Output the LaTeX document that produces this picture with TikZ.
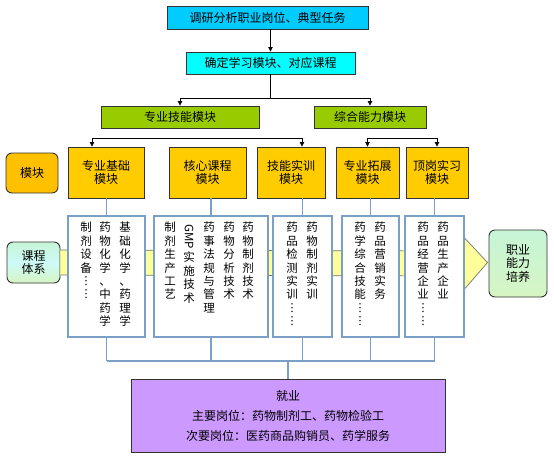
\documentclass[tikz,border=0pt]{standalone}
\usepackage{fontspec}
\setmainfont{Noto Sans CJK SC}
\usetikzlibrary{arrows.meta,calc}
\definecolor{cyanA}{RGB}{0,204,255}
\definecolor{cyanB}{RGB}{0,255,255}
\definecolor{greenM}{RGB}{153,204,0}
\definecolor{yellowM}{RGB}{255,204,0}
\definecolor{orangeM}{RGB}{255,192,0}
\definecolor{purpleM}{RGB}{204,153,255}
\definecolor{blueL}{RGB}{122,160,200}
\definecolor{arrowY}{RGB}{255,255,153}
\definecolor{mintT}{RGB}{198,245,214}
\definecolor{mintM}{RGB}{205,250,248}
\definecolor{mintB}{RGB}{214,245,196}
\begin{document}
\begin{tikzpicture}[x=1pt,y=-1pt,
  box/.style={draw=black!80, line width=0.9pt, inner sep=0pt, align=center, font=\fontsize{12}{13.5}\selectfont},
  rbox/.style={box, rounded corners=6pt, top color=mintT, bottom color=mintB, middle color=mintM},
  course/.style={draw=blueL, line width=1.6pt, fill=white, inner sep=0pt},
  vcol/.style={anchor=north, inner sep=0pt, align=center, font=\fontsize{11.5}{13.4}\selectfont},
  arr/.style={-{Triangle[length=4.5pt,width=4.5pt]}, line width=0.8pt},
  blk/.style={line width=0.8pt},
  bl/.style={draw=blueL, line width=1.6pt},
]
\fill[white] (0,0) rectangle (554,458);
\useasboundingbox (0,0) rectangle (554,458);

% top boxes
\node[box, fill=cyanA, minimum width=201pt, minimum height=23pt] (top) at (267.5,17.5) {调研分析职业岗位、典型任务};
\node[box, fill=cyanB, minimum width=169pt, minimum height=22pt] (sec) at (270.5,63) {确定学习模块、对应课程};
\draw[arr] (top.south -| sec.north) -- (sec.north);

% green boxes
\node[box, fill=greenM, minimum width=158pt, minimum height=22pt] (G1) at (180,117) {专业技能模块};
\node[box, fill=greenM, minimum width=112pt, minimum height=22pt] (G2) at (370,117) {综合能力模块};
\coordinate (gbus) at (0,98);
\coordinate (ybus) at (0,138);
\coordinate (bus) at (0,361);
\draw[blk] (sec.south) -- (sec.south |- gbus);
\draw[blk] (G1.north |- gbus) -- (G2.north |- gbus);
\draw[arr] (G1.north |- gbus) -- (G1.north);
\draw[arr] (G2.north |- gbus) -- (G2.north);

% yellow module boxes
\node[box, fill=yellowM, minimum width=76pt, minimum height=51pt] (Y1) at (106,172.5) {专业基础\\模块};
\node[box, fill=yellowM, minimum width=77pt, minimum height=51pt] (Y2) at (207.5,172.5) {核心课程\\模块};
\node[box, fill=yellowM, minimum width=68pt, minimum height=51pt] (Y3) at (291,172.5) {技能实训\\模块};
\node[box, fill=yellowM, minimum width=63pt, minimum height=51pt] (Y4) at (367.5,172.5) {专业拓展\\模块};
\node[box, fill=yellowM, minimum width=62pt, minimum height=51pt] (Y5) at (437,172.5) {顶岗实习\\模块};
\node[box, fill=orangeM, rounded corners=6pt, minimum width=52pt, minimum height=40pt] (MK) at (32,173) {模块};

\coordinate (y1a) at ($(Y1.north)+(-14,0)$);
\coordinate (y3a) at ($(Y3.north)+(11,0)$);
\draw[blk] ($(G1.south)+(14,0)$) -- ($(G1.south)+(14,0)$ |- ybus);
\draw[blk] (y1a |- ybus) -- (y3a |- ybus);
\draw[arr] (y1a |- ybus) -- (y1a);
\draw[arr] (y3a |- ybus) -- (y3a);
\draw[blk] ($(G2.south)+(24,0)$) -- ($(G2.south)+(24,0)$ |- ybus);
\draw[blk] (Y4.north |- ybus) -- (Y5.north |- ybus);
\draw[arr] (Y4.north |- ybus) -- (Y4.north);
\draw[arr] (Y5.north |- ybus) -- (Y5.north);

% side rounded boxes
\node[rbox, minimum width=53pt, minimum height=41pt] (KC) at (33.5,262.5) {课程\\体系};
\node[rbox, minimum width=58pt, minimum height=67pt, top color=mintT, middle color=mintM!60!cyan!20!white, bottom color=mintB] (ZY) at (518,263.5) {职业\\能力\\培养};

% big yellow arrow
\draw[draw=black!55, fill=arrowY, line width=0.7pt]
  ($(KC.east)+(0,-12.5)$) -- ($(ZY.west)+(-24,-12.5)$) -- ($(ZY.west)+(-24,-25.5)$)
  -- ($(ZY.west)+(-1,-1)$) -- ($(ZY.west)+(-24,25.5)$) -- ($(ZY.west)+(-24,12.5)$)
  -- ($(KC.east)+(0,12.5)$);

% course boxes
\node[course, minimum width=77pt, minimum height=121pt] (C1) at (106.5,276.5) {};
\node[course, minimum width=114pt, minimum height=121pt] (C2) at (211,276.5) {};
\node[course, minimum width=59pt, minimum height=121pt] (C3) at (302.5,276.5) {};
\node[course, minimum width=57pt, minimum height=121pt] (C4) at (370.5,276.5) {};
\node[course, minimum width=59pt, minimum height=121pt] (C5) at (434.5,276.5) {};

\foreach \i in {1,...,5}{
  \draw[bl] (C\i.north |- Y\i.south) -- (C\i.north);
  \draw[bl] (C\i.south) -- (C\i.south |- bus);
}
\draw[bl] (C1.south |- bus) -- (C5.south |- bus);

% vertical texts
\node[vcol] (t1a) at (125,222) {基\\础\\化\\学\\、\\药\\理\\学};
\node[vcol] (t1b) at (105,222) {药\\物\\化\\学\\、\\中\\药\\学};
\node[vcol] (t1c) at (86,222) {制\\剂\\设\\备\\︙\\︙};

\node[vcol] (t2a) at (248,222) {药\\物\\制\\剂\\技\\术};
\node[vcol] (t2b) at (229,222) {药\\物\\分\\析\\技\\术};
\node[vcol] (t2c) at (209,222) {药\\事\\法\\规\\与\\管\\理};
\node[inner sep=0pt, rotate=-90, font=\fontsize{11.5}{13.4}\selectfont] (t2g) at (189,237) {GMP};
\node[vcol] (t2d) at (189,252) {实\\施\\技\\术};
\node[vcol] (t2e) at (170,222) {制\\剂\\生\\产\\工\\艺};

\node[vcol] (t3a) at (312,222) {药\\物\\制\\剂\\实\\训};
\node[vcol] (t3b) at (292,222) {药\\品\\检\\测\\实\\训\\︙\\︙};

\node[vcol] (t4a) at (380,222) {药\\品\\营\\销\\实\\务};
\node[vcol] (t4b) at (360,222) {药\\学\\综\\合\\技\\能\\︙\\︙};

\node[vcol] (t5a) at (443,222) {药\\品\\生\\产\\企\\业};
\node[vcol] (t5b) at (423,222) {药\\品\\经\\营\\企\\业\\︙\\︙};

% employment box
\node[box, fill=purpleM, minimum width=314pt, minimum height=73pt, font=\fontsize{12}{20}\selectfont] (P) at (288,415.5)
  {就业\\主要岗位：药物制剂工、药物检验工\\次要岗位：医药商品购销员、药学服务};
\draw[bl] (P.north |- bus) -- (P.north);
\end{tikzpicture}
\end{document}
